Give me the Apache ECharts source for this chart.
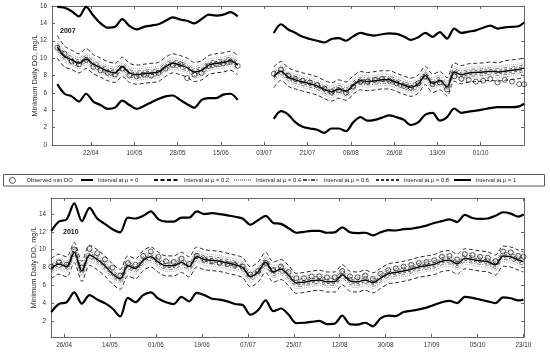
<!DOCTYPE html>
<html><head><meta charset="utf-8">
<script src="https://cdn.jsdelivr.net/npm/echarts@6/dist/echarts.min.js"></script>
<style>html,body{margin:0;padding:0;background:#fff}#c{width:550px;height:354px}</style>
</head><body><div id="c"></div><script>
// ---------- 2007 (gap between the two deployments marked by a null row) ----------
const dates07 = ['04-08','04-11','04-14','04-17','04-20','04-23','04-26','04-29','05-02','05-05','05-08','05-11','05-14','05-17','05-20','05-23','05-26','05-29','06-01','06-04','06-07','06-10','06-13','06-16','06-19','06-22','06-28','07-07','07-10','07-13','07-16','07-19','07-22','07-25','07-28','07-31','08-03','08-06','08-09','08-12','08-15','08-18','08-21','08-24','08-27','08-30','09-02','09-05','09-08','09-11','09-14','09-17','09-20','09-23','09-26','09-29','10-02','10-05','10-08','10-11','10-14','10-17','10-19'];
const obs07 = [11.2,10.5,9.6,9.3,9.8,9.0,8.6,8.3,8.1,8.8,8.0,7.9,8.1,8.0,8.3,8.8,9.2,9.3,7.7,8.1,8.3,9.1,9.3,9.4,9.6,9.1, null,
 8.2,8.7,8.0,7.6,7.4,7.2,6.9,6.5,6.1,6.3,6.0,6.7,7.3,7.3,7.5,7.6,7.4,7.1,6.8,6.6,7.1,7.9,7.0,7.2,6.4,7.9,7.6,7.5,7.3,7.4,7.6,7.2,7.5,7.3,7.0,7.0];
const mu0Up07 = [15.9,15.8,15.4,14.8,15.9,14.9,14.0,13.5,13.6,14.5,13.7,13.3,13.6,13.75,13.9,14.3,14.7,14.45,14.3,14.0,14.5,15.0,14.9,15.0,15.3,14.8, null,
 12.9,13.9,13.3,12.9,12.45,12.2,12.0,11.8,12.2,12.3,12.0,12.5,12.9,12.7,12.6,12.75,12.85,12.8,12.5,12.1,12.4,12.9,12.45,13.0,12.25,13.4,12.9,13.05,13.2,13.5,13.75,13.4,13.55,13.6,13.7,14.1];
const mu0Lo07 = [7.0,5.9,5.6,5.0,5.9,5.0,4.6,4.15,4.3,5.1,4.6,4.15,4.5,4.9,5.3,5.6,5.7,5.2,4.7,4.3,5.2,5.4,5.4,5.8,5.9,5.2, null,
 3.0,3.9,3.5,2.6,2.1,1.9,1.75,1.4,1.9,1.9,1.6,2.6,3.2,2.8,2.9,3.15,3.4,3.2,2.9,2.3,2.6,3.5,3.7,2.8,3.2,4.2,3.7,3.85,3.95,4.1,4.25,4.35,4.35,4.35,4.45,4.75];
const mu02Up07 = [12.6,11.4,10.9,10.5,11.1,10.4,10.0,9.6,9.4,10.1,9.4,9.2,9.3,9.4,9.5,10.1,10.5,10.3,10.0,9.5,9.7,10.3,10.5,10.6,10.8,10.3, null,
 9.0,9.6,8.9,8.55,8.3,8.1,7.85,7.45,7.15,7.5,7.25,7.95,8.45,8.35,8.45,8.55,8.55,8.25,7.95,7.7,8.05,9.05,8.15,8.45,7.75,9.45,9.15,9.35,9.4,9.45,9.55,9.45,9.7,9.8,9.9,10.05];
const mu02Lo07 = [10.0,9.0,8.7,8.3,8.8,8.2,7.8,7.4,7.2,7.9,7.2,7.0,7.1,7.2,7.3,7.9,8.3,8.1,7.8,7.3,7.5,8.1,8.3,8.4,8.6,8.1, null,
 6.6,7.45,6.75,6.45,6.2,6.0,5.75,5.35,5.05,5.4,5.15,5.85,6.35,6.25,6.35,6.45,6.45,6.15,5.85,5.6,5.95,6.95,6.05,6.35,5.65,7.35,7.05,7.25,7.3,7.35,7.45,7.35,7.45,7.55,7.65,7.8];
const mu04Up07 = [11.95,10.85,10.45,10.05,10.55,9.95,9.55,9.15,8.95,9.65,8.95,8.75,8.85,8.95,9.05,9.65,10.05,9.85,9.55,9.05,9.25,9.85,10.05,10.15,10.35,9.85, null,
 8.55,9.15,8.45,8.15,7.9,7.7,7.45,7.05,6.75,7.1,6.85,7.55,8.05,7.95,8.05,8.15,8.15,7.85,7.55,7.3,7.65,8.65,7.75,8.05,7.35,9.05,8.75,8.95,9.0,9.05,9.15,9.05,9.15,9.25,9.35,9.5];
const mu04Lo07 = [10.65,9.55,9.15,8.75,9.25,8.65,8.25,7.85,7.65,8.35,7.65,7.45,7.55,7.65,7.75,8.35,8.75,8.55,8.25,7.75,7.95,8.55,8.75,8.85,9.05,8.55, null,
 7.25,7.85,7.15,6.85,6.6,6.4,6.15,5.75,5.45,5.8,5.55,6.25,6.75,6.65,6.75,6.85,6.85,6.55,6.25,6.0,6.35,7.35,6.45,6.75,6.05,7.75,7.45,7.65,7.7,7.75,7.85,7.75,7.85,7.95,8.05,8.2];
const mu06Up07 = [11.7,10.6,10.2,9.8,10.3,9.7,9.3,8.9,8.7,9.4,8.7,8.5,8.6,8.7,8.8,9.4,9.8,9.6,9.3,8.8,9.0,9.6,9.8,9.9,10.1,9.6, null,
 8.3,8.9,8.2,7.9,7.65,7.45,7.2,6.8,6.5,6.85,6.6,7.3,7.8,7.7,7.8,7.9,7.9,7.6,7.3,7.05,7.4,8.4,7.5,7.8,7.1,8.8,8.5,8.7,8.75,8.8,8.9,8.8,8.9,9.0,9.1,9.25];
const mu06Lo07 = [10.9,9.8,9.4,9.0,9.5,8.9,8.5,8.1,7.9,8.6,7.9,7.7,7.8,7.9,8.0,8.6,9.0,8.8,8.5,8.0,8.2,8.8,9.0,9.1,9.3,8.8, null,
 7.5,8.1,7.4,7.1,6.85,6.65,6.4,6.0,5.7,6.05,5.8,6.5,7.0,6.9,7.0,7.1,7.1,6.8,6.5,6.25,6.6,7.6,6.7,7.0,6.3,8.0,7.7,7.9,7.95,8.0,8.1,8.0,8.1,8.2,8.3,8.45];
const mu08Up07 = [11.5,10.4,10.0,9.6,10.1,9.5,9.1,8.7,8.5,9.2,8.5,8.3,8.4,8.5,8.6,9.2,9.6,9.4,9.1,8.6,8.8,9.4,9.6,9.7,9.9,9.4, null,
 8.1,8.7,8.0,7.7,7.45,7.25,7.0,6.6,6.3,6.65,6.4,7.1,7.6,7.5,7.6,7.7,7.7,7.4,7.1,6.85,7.2,8.2,7.3,7.6,6.9,8.6,8.3,8.5,8.55,8.6,8.7,8.6,8.7,8.8,8.9,9.05];
const mu08Lo07 = [11.1,10.0,9.6,9.2,9.7,9.1,8.7,8.3,8.1,8.8,8.1,7.9,8.0,8.1,8.2,8.8,9.2,9.0,8.7,8.2,8.4,9.0,9.2,9.3,9.5,9.0, null,
 7.7,8.3,7.6,7.3,7.05,6.85,6.6,6.2,5.9,6.25,6.0,6.7,7.2,7.1,7.2,7.3,7.3,7.0,6.7,6.45,6.8,7.8,6.9,7.2,6.5,8.2,7.9,8.1,8.15,8.2,8.3,8.2,8.3,8.4,8.5,8.65];
const mu1_07 = [11.3,10.2,9.8,9.4,9.9,9.3,8.9,8.5,8.3,9.0,8.3,8.1,8.2,8.3,8.4,9.0,9.4,9.2,8.9,8.4,8.6,9.2,9.4,9.5,9.7,9.2, null,
 7.9,8.5,7.8,7.5,7.25,7.05,6.8,6.4,6.1,6.45,6.2,6.9,7.4,7.3,7.4,7.5,7.5,7.2,6.9,6.65,7.0,8.0,7.1,7.4,6.7,8.4,8.1,8.3,8.35,8.4,8.5,8.4,8.5,8.6,8.7,8.85];

// ---------- 2010 ----------
const dates10 = ['04-21','04-24','04-27','04-30','05-03','05-06','05-09','05-12','05-15','05-18','05-21','05-24','05-27','05-30','06-02','06-05','06-08','06-11','06-14','06-17','06-20','06-23','06-26','06-29','07-02','07-05','07-08','07-11','07-14','07-17','07-20','07-23','07-26','07-29','08-01','08-04','08-07','08-10','08-13','08-16','08-19','08-22','08-25','08-28','08-31','09-03','09-06','09-09','09-12','09-15','09-18','09-21','09-24','09-27','09-30','10-03','10-06','10-09','10-12','10-15','10-18','10-21','10-23'];
const obs10 = [8.1,8.6,8.3,10.0,8.0,10.1,9.6,8.9,8.0,7.1,8.5,8.3,9.3,9.8,9.2,8.7,8.6,9.0,8.4,9.3,8.9,8.7,8.5,8.4,8.3,8.1,7.2,7.6,8.5,7.7,8.1,7.5,6.8,6.8,7.0,7.0,6.9,6.9,7.6,7.0,6.9,7.1,6.7,7.3,7.7,7.9,8.1,8.3,8.5,8.6,8.8,9.2,9.3,8.9,9.5,9.4,9.2,9.1,8.7,9.8,9.7,9.3,9.2];
const mu0Up10 = [12.1,13.15,13.4,15.2,13.2,14.7,13.5,12.9,12.3,11.95,13.6,13.5,13.8,14.3,13.4,13.15,13.15,13.6,13.6,14.3,14.0,14.1,14.0,13.85,13.7,13.5,12.8,13.3,13.8,13.0,12.9,12.4,11.9,12.0,12.1,12.1,11.9,11.95,12.5,11.95,11.85,11.9,11.6,11.95,12.2,12.15,12.3,12.35,12.5,12.7,13.0,13.2,13.4,13.1,13.9,13.55,13.45,13.5,13.8,14.2,14.05,13.7,13.95];
const mu0Lo10 = [3.0,3.9,4.1,5.2,3.95,4.9,4.4,4.0,3.4,2.5,4.6,4.1,4.9,5.2,4.5,4.1,3.9,4.7,4.2,5.15,4.9,4.5,4.4,4.2,3.9,3.8,2.7,3.2,4.3,3.1,3.4,2.7,1.75,1.8,1.9,2.0,1.65,1.7,2.6,1.65,1.6,1.8,1.4,2.3,2.6,2.55,3.0,3.15,3.3,3.5,3.8,4.1,4.25,4.0,4.7,4.6,4.4,4.2,4.0,4.65,4.55,4.3,4.4];
const mu02Up10 = [9.0,9.5,9.2,10.8,8.7,10.5,10.0,9.3,8.4,7.8,9.3,9.0,9.9,10.3,9.7,9.3,9.3,9.7,9.2,10.3,10.0,9.9,9.8,9.6,9.4,9.1,8.1,8.6,9.7,8.6,8.9,8.2,7.35,7.45,7.6,7.7,7.5,7.5,8.3,7.6,7.5,7.7,7.4,7.9,8.4,8.55,8.7,8.9,9.15,9.3,9.45,9.8,9.9,9.5,10.1,10.0,9.85,9.75,9.4,10.4,10.3,9.95,9.75];
const mu02Lo10 = [6.75,7.25,6.95,8.55,6.45,8.25,7.75,7.05,6.15,5.55,7.05,6.75,7.65,8.05,7.45,7.05,7.05,7.45,6.95,8.05,7.75,7.65,7.55,7.35,7.15,6.85,5.85,6.35,7.45,6.35,6.65,5.95,5.1,5.2,5.35,5.45,5.25,5.25,6.05,5.35,5.25,5.45,5.15,5.65,6.15,6.3,6.45,6.65,6.9,7.05,7.2,7.55,7.65,7.25,7.85,7.75,7.6,7.5,7.15,8.15,8.05,7.7,7.5];
const mu04Up10 = [8.55,9.05,8.75,10.35,8.25,10.05,9.55,8.85,7.95,7.35,8.85,8.55,9.45,9.85,9.25,8.85,8.85,9.25,8.75,9.85,9.55,9.45,9.35,9.15,8.95,8.65,7.65,8.15,9.25,8.15,8.45,7.75,6.9,7.0,7.15,7.25,7.05,7.05,7.85,7.15,7.05,7.25,6.95,7.45,7.95,8.1,8.25,8.45,8.7,8.85,9.0,9.35,9.45,9.05,9.65,9.55,9.4,9.3,8.95,9.95,9.85,9.5,9.3];
const mu04Lo10 = [7.25,7.75,7.45,9.05,6.95,8.75,8.25,7.55,6.65,6.05,7.55,7.25,8.15,8.55,7.95,7.55,7.55,7.95,7.45,8.55,8.25,8.15,8.05,7.85,7.65,7.35,6.35,6.85,7.95,6.85,7.15,6.45,5.6,5.7,5.85,5.95,5.75,5.75,6.55,5.85,5.75,5.95,5.65,6.15,6.65,6.8,6.95,7.15,7.4,7.55,7.7,8.05,8.15,7.75,8.35,8.25,8.1,8.0,7.65,8.65,8.55,8.2,8.0];
const mu06Up10 = [8.3,8.8,8.5,10.1,8.0,9.8,9.3,8.6,7.7,7.1,8.6,8.3,9.2,9.6,9.0,8.6,8.6,9.0,8.5,9.6,9.3,9.2,9.1,8.9,8.7,8.4,7.4,7.9,9.0,7.9,8.2,7.5,6.65,6.75,6.9,7.0,6.8,6.8,7.6,6.9,6.8,7.0,6.7,7.2,7.7,7.85,8.0,8.2,8.45,8.6,8.75,9.1,9.2,8.8,9.4,9.3,9.15,9.05,8.7,9.7,9.6,9.25,9.05];
const mu06Lo10 = [7.5,8.0,7.7,9.3,7.2,9.0,8.5,7.8,6.9,6.3,7.8,7.5,8.4,8.8,8.2,7.8,7.8,8.2,7.7,8.8,8.5,8.4,8.3,8.1,7.9,7.6,6.6,7.1,8.2,7.1,7.4,6.7,5.85,5.95,6.1,6.2,6.0,6.0,6.8,6.1,6.0,6.2,5.9,6.4,6.9,7.05,7.2,7.4,7.65,7.8,7.95,8.3,8.4,8.0,8.6,8.5,8.35,8.25,7.9,8.9,8.8,8.45,8.25];
const mu08Up10 = [8.1,8.6,8.3,9.9,7.8,9.6,9.1,8.4,7.5,6.9,8.4,8.1,9.0,9.4,8.8,8.4,8.4,8.8,8.3,9.4,9.1,9.0,8.9,8.7,8.5,8.2,7.2,7.7,8.8,7.7,8.0,7.3,6.45,6.55,6.7,6.8,6.6,6.6,7.4,6.7,6.6,6.8,6.5,7.0,7.5,7.65,7.8,8.0,8.25,8.4,8.55,8.9,9.0,8.6,9.2,9.1,8.95,8.85,8.5,9.5,9.4,9.05,8.85];
const mu08Lo10 = [7.7,8.2,7.9,9.5,7.4,9.2,8.7,8.0,7.1,6.5,8.0,7.7,8.6,9.0,8.4,8.0,8.0,8.4,7.9,9.0,8.7,8.6,8.5,8.3,8.1,7.8,6.8,7.3,8.4,7.3,7.6,6.9,6.05,6.15,6.3,6.4,6.2,6.2,7.0,6.3,6.2,6.4,6.1,6.6,7.1,7.25,7.4,7.6,7.85,8.0,8.15,8.5,8.6,8.2,8.8,8.7,8.55,8.45,8.1,9.1,9.0,8.65,8.45];
const mu1_10 = [7.9,8.4,8.1,9.7,7.6,9.4,8.9,8.2,7.3,6.7,8.2,7.9,8.8,9.2,8.6,8.2,8.2,8.6,8.1,9.2,8.9,8.8,8.7,8.5,8.3,8.0,7.0,7.5,8.6,7.5,7.8,7.1,6.25,6.35,6.5,6.6,6.4,6.4,7.2,6.5,6.4,6.6,6.3,6.8,7.3,7.45,7.6,7.8,8.05,8.2,8.35,8.7,8.8,8.4,9.0,8.9,8.75,8.65,8.3,9.3,9.2,8.85,8.65];

// ---------- tick labels ----------
const xTicks07 = ['22/04','10/05','28/05','15/06','03/07','21/07','08/08','26/08','13/09','01/10'];
const xTicks10 = ['26/04','14/05','01/06','19/06','07/07','25/07','12/08','30/08','17/09','05/10','23/10'];
const yTicks07 = [0,2,4,6,8,10,12,14,16];
const yTicks10 = [2,4,6,8,10,12,14];
const yearLabels = ['2007','2010'];
const yName = 'Minimum Daily DO, mg/L';
const names = ['Observed min DO','Interval at μ = 0','Interval at μ = 0.2','Interval at μ = 0.4','Interval at μ = 0.6','Interval at μ = 0.8','Interval at μ = 1'];

function doyMD(year, md) { const [m,d] = md.split('-').map(Number); return (Date.UTC(year,m-1,d)-Date.UTC(year,0,1))/86400000; }
function doyDM(year, dm) { const [d,m] = dm.split('/').map(Number); return (Date.UTC(year,m-1,d)-Date.UTC(year,0,1))/86400000; }
function pts(year, dates, vals) { return dates.map((md,i)=>[doyMD(year,md), vals[i]]); }

const FONT = 'Liberation Sans';
const styles = {
  [names[1]]: {color:'#000', width:2.2, type:'solid'},
  [names[2]]: {color:'#111', width:0.9, type:[4,2.5]},
  [names[3]]: {color:'#9a9a9a', width:0.8, type:[1,1]},
  [names[4]]: {color:'#555', width:0.8, type:[4,1.5,1,1.5]},
  [names[5]]: {color:'#333', width:0.8, type:[3,2]},
  [names[6]]: {color:'#000', width:1.5, type:'solid'}
};
function lineSeries(name, year, dates, vals, gi) {
  const s = styles[name];
  return {type:'line', name, xAxisIndex:gi*2, yAxisIndex:gi*2, data:pts(year,dates,vals),
    symbol:'none', showSymbol:false, connectNulls:false, z:2, silent:true, smooth:0.3,
    lineStyle:{color:s.color, width:s.width, type:s.type}, itemStyle:{color:s.color}};
}
function chartSeries(gi, year, dates, obs, sets) {
  const out = [];
  sets.forEach(([name, arr]) => out.push(lineSeries(name, year, dates, arr, gi)));
  out.push({type:'scatter', name:names[0], xAxisIndex:gi*2, yAxisIndex:gi*2, data:pts(year,dates,obs).filter(p=>p[1]!=null),
    symbol:'circle', symbolSize:5, z:3, silent:true,
    itemStyle:{color:'rgba(0,0,0,0)', borderColor:'#000', borderWidth:0.75}});
  return out;
}
const series = [].concat(
  chartSeries(0, 2007, dates07, obs07, [
    [names[3],mu04Up07],[names[3],mu04Lo07],[names[1],mu0Up07],[names[1],mu0Lo07],
    [names[2],mu02Up07],[names[2],mu02Lo07],[names[4],mu06Up07],[names[4],mu06Lo07],
    [names[5],mu08Up07],[names[5],mu08Lo07],[names[6],mu1_07]]),
  chartSeries(1, 2010, dates10, obs10, [
    [names[3],mu04Up10],[names[3],mu04Lo10],[names[1],mu0Up10],[names[1],mu0Lo10],
    [names[2],mu02Up10],[names[2],mu02Lo10],[names[4],mu06Up10],[names[4],mu06Lo10],
    [names[5],mu08Up10],[names[5],mu08Lo10],[names[6],mu1_10]])
);

const axisCol = '#666';
function xAxes(gi, year, ticks, min, max) {
  const vals = ticks.map(t=>doyDM(year,t));
  const lab = {}; ticks.forEach((t,i)=>lab[vals[i]]=t);
  const common = {type:'value', gridIndex:gi, min, max, splitLine:{show:false},
    axisLine:{show:true, onZero:false, lineStyle:{color:axisCol, width:1}},
    axisTick:{show:true, inside:true, length:3, customValues:vals, lineStyle:{color:axisCol}}};
  return [
    Object.assign({}, common, {position:'bottom', axisLabel:{show:true, customValues:vals, formatter:v=>lab[v]||'', fontSize:6.3, color:'#333', fontFamily:FONT, margin:5}}),
    Object.assign({}, common, {position:'top', axisLabel:{show:false}})
  ];
}
function yAxes(gi, ticks, min, max) {
  const common = {type:'value', gridIndex:gi, min, max, splitLine:{show:false},
    axisLine:{show:true, onZero:false, lineStyle:{color:axisCol, width:1}},
    axisTick:{show:true, inside:true, length:3, customValues:ticks, lineStyle:{color:axisCol}}};
  return [
    Object.assign({}, common, {position:'left', name:yName, nameLocation:'middle', nameGap:14, nameMoveOverlap:false,
      nameTextStyle:{fontSize:7.4, color:'#333', fontFamily:FONT},
      axisLabel:{show:true, customValues:ticks, fontSize:6.3, color:'#333', fontFamily:FONT, margin:5}}),
    Object.assign({}, common, {position:'right', axisLabel:{show:false}})
  ];
}

// one legend block per entry so each sits where the reference puts it
const legLeft  = [9, 80, 153, 233, 302, 375, 453];
const legWidth = [18, 12, 25, 17, 16, 23, 17];
const legends = names.map((n,i)=>({
  left:legLeft[i], top:177, itemWidth:legWidth[i], itemHeight:6, itemGap:0, padding:0,
  selectedMode:false, textStyle:{fontSize:5.8, color:'#222', fontFamily:FONT},
  data:[i===0 ? {name:n, icon:'circle', itemStyle:{color:'rgba(0,0,0,0)', borderColor:'#000', borderWidth:0.8}}
              : {name:n, itemStyle:{opacity:0}}]
}));

const chart = echarts.init(document.getElementById('c'), null, {renderer:'canvas'});
chart.setOption({
  animation:false,
  backgroundColor:'#fff',
  grid:[
    {left:52, top:6, width:472, height:139},
    {left:51, top:198, width:473, height:139}
  ],
  xAxis:[...xAxes(0,2007,xTicks07,94.8,291), ...xAxes(1,2010,xTicks10,109.9,295.2)],
  yAxis:[...yAxes(0,yTicks07,0,16), ...yAxes(1,yTicks10,0.2,15.8)],
  legend:legends,
  graphic:[
    {type:'rect', shape:{x:3.5, y:174.5, width:541, height:11.5}, style:{fill:'none', stroke:'#333', lineWidth:0.8}, silent:true},
    {type:'text', left:60, top:28, style:{text:yearLabels[0], font:'bold 7px "Liberation Sans"', fill:'#111'}},
    {type:'text', left:63, top:229, style:{text:yearLabels[1], font:'bold 7px "Liberation Sans"', fill:'#111'}}
  ],
  series
});
</script></body></html>
